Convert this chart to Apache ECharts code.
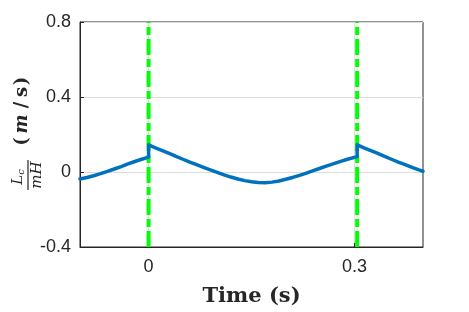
<!DOCTYPE html>
<html><head><meta charset="utf-8">
<script src="https://cdn.jsdelivr.net/npm/echarts@6/dist/echarts.min.js"></script>
<style>html,body{margin:0;padding:0;background:#fff}#c{width:469px;height:312px}</style>
</head><body><div id="c"></div>
<script>
// Data
const timeS = [-0.1,-0.09,-0.08,-0.07,-0.06,-0.05,-0.04,-0.03,-0.02,-0.01,0,0,
  0.01,0.02,0.03,0.04,0.05,0.06,0.07,0.08,0.09,0.10,0.11,0.12,0.13,0.14,0.15,0.16,0.17,0.18,0.19,0.20,
  0.21,0.22,0.23,0.24,0.25,0.26,0.27,0.28,0.29,0.304,0.304,
  0.314,0.324,0.334,0.344,0.354,0.364,0.374,0.384,0.394,0.4];
const lcValues = [-0.037,-0.029,-0.020,-0.009,0.003,0.016,0.029,0.043,0.056,0.068,0.079,0.145,
  0.129,0.114,0.099,0.083,0.068,0.053,0.039,0.025,0.011,-0.002,-0.015,-0.027,-0.037,-0.046,-0.052,-0.056,-0.057,-0.054,-0.048,-0.039,
  -0.029,-0.018,-0.006,0.007,0.020,0.033,0.045,0.057,0.068,0.082,0.145,
  0.129,0.114,0.099,0.083,0.068,0.053,0.039,0.025,0.011,0.004];
const eventTimes = [0, 0.304];
const xTickValues = [0, 0.3];
const yTickValues = [-0.4, 0, 0.4, 0.8];
const xTitle = 'Time (s)';

const chart = echarts.init(document.getElementById('c'), null, {renderer: 'canvas'});
const axisColor = '#262626';
const tickFont = {fontFamily: 'Liberation Sans', fontSize: 18, color: axisColor};

const series = eventTimes.map(t => ({
  type: 'line', data: [[t, yTickValues[0]], [t, yTickValues[yTickValues.length - 1]]],
  symbol: 'none', silent: true, z: 2,
  lineStyle: {color: '#00FF00', width: 4, type: [16, 4, 8, 4], cap: 'butt'}
}));
series.push({
  type: 'line', data: timeS.map((t, i) => [t, lcValues[i]]),
  symbol: 'none', z: 3,
  lineStyle: {color: '#0072BD', width: 3.5, join: 'round', cap: 'round'}
});

const serifIt = {fontFamily: 'DejaVu Serif', fontStyle: 'italic', fill: axisColor};
const serifB = {fontFamily: 'DejaVu Serif', fontWeight: 'bold', fontSize: 18, fill: axisColor, align: 'center', verticalAlign: 'middle'};
chart.setOption({
  animation: false,
  grid: {left: 80, right: 46, top: 22, bottom: 64, show: true, borderColor: axisColor, borderWidth: 1},
  xAxis: {
    type: 'value', min: -0.1, max: 0.4,
    name: xTitle, nameLocation: 'middle', nameGap: 39,
    nameTextStyle: {fontFamily: 'DejaVu Serif', fontWeight: 'bold', fontSize: 21, color: axisColor},
    axisLine: {onZero: false, lineStyle: {color: axisColor}},
    axisTick: {inside: true, length: 4, lineStyle: {color: axisColor}, customValues: xTickValues},
    axisLabel: {...tickFont, margin: 11, customValues: xTickValues, formatter: v => String(v)},
    splitLine: {show: true, lineStyle: {color: '#dcdcdc', width: 1}}
  },
  yAxis: {
    type: 'value', min: -0.4, max: 0.8, interval: 0.4,
    axisLine: {show: true, onZero: false, lineStyle: {color: axisColor}},
    axisTick: {show: true, inside: true, length: 4, lineStyle: {color: axisColor}},
    axisLabel: {...tickFont, margin: 9, formatter: v => String(Math.round(v * 10) / 10)},
    splitLine: {show: true, lineStyle: {color: '#dcdcdc', width: 1}}
  },
  graphic: [{
    type: 'group', x: 28, y: 175, rotation: Math.PI / 2,
    children: [
      {type: 'text', x: -2, y: -2, style: {text: '{a|L}{b|c}', align: 'center', verticalAlign: 'bottom',
        rich: {a: {...serifIt, fontSize: 15},
               b: {...serifIt, fontSize: 10, padding: [5, 0, 0, 0]}}}},
      {type: 'line', shape: {x1: -15, y1: 0, x2: 15, y2: 0}, style: {stroke: axisColor, lineWidth: 1.2}},
      {type: 'text', x: 0, y: 2, style: {text: 'mH', align: 'center', verticalAlign: 'top', ...serifIt, fontSize: 15}},
      {type: 'text', x: 33.5, y: -6, style: {text: '(', ...serifB}},
      {type: 'text', x: 51, y: -6, style: {text: 'm', ...serifB, fontStyle: 'italic'}},
      {type: 'text', x: 70, y: -6, style: {text: '/', ...serifB}},
      {type: 'text', x: 83, y: -6, style: {text: 's', ...serifB}},
      {type: 'text', x: 94, y: -6, style: {text: ')', ...serifB}}
    ]
  }],
  series: series
});
</script></body></html>
